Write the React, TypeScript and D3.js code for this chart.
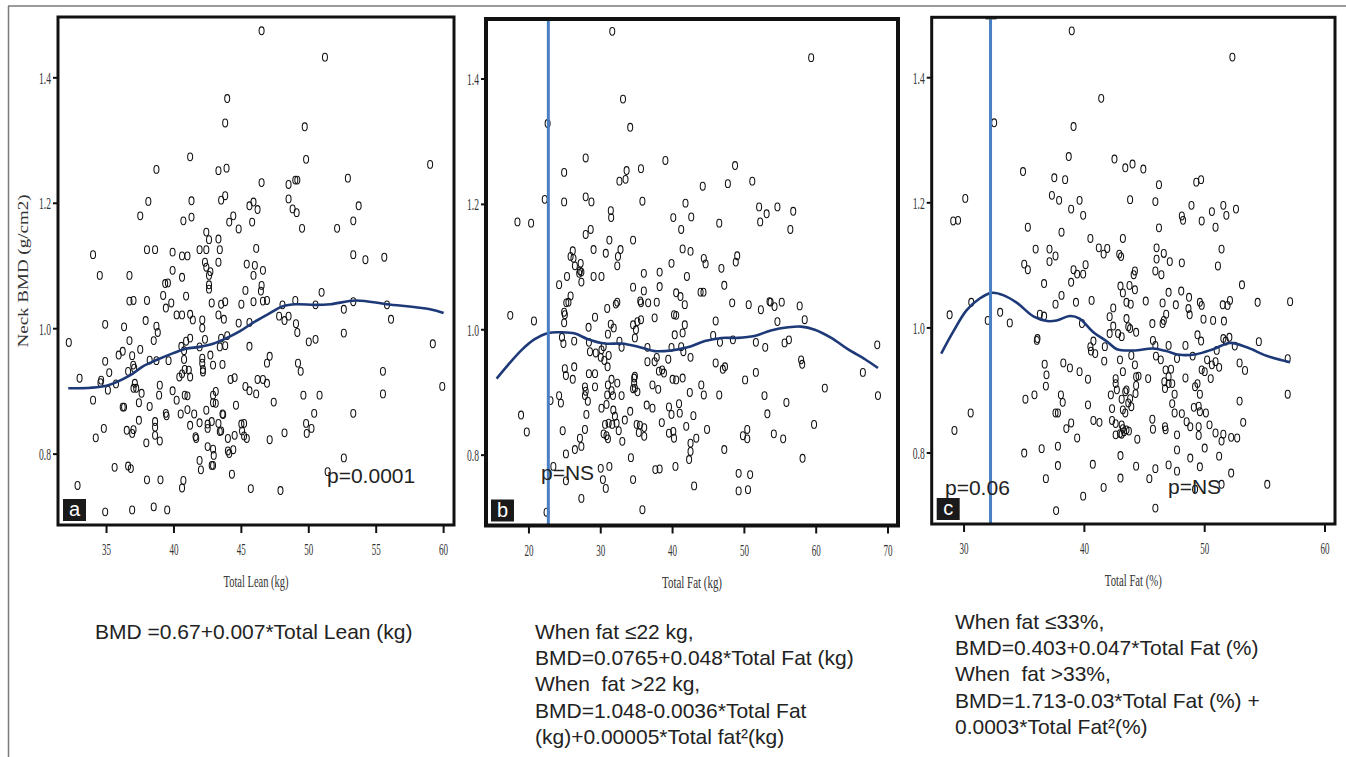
import React from 'react';
import * as d3 from 'd3';

type Pt = [number, number];

const yTickValues = [0.8, 1.0, 1.2, 1.4];
const leanTicks = [35, 40, 45, 50, 55, 60];
const fatKgTicks = [20, 30, 40, 50, 60, 70];
const fatPctTicks = [30, 40, 50, 60];

const leanPoints: Pt[] = [
[46.5,1.475],[51.2,1.433],[43.95,1.367],[43.8,1.328],[49.7,1.322],[41.2,1.274],[49.8,1.270],[59.0,1.262],[38.7,1.254],[43.3,1.252],[43.9,1.256],[46.5,1.233],[52.9,1.240],[48.5,1.230],[49.0,1.237],[49.15,1.237],[38.1,1.203],[41.3,1.204],[43.5,1.205],[43.8,1.212],[48.5,1.207],[45.6,1.196],[45.9,1.202],[46.2,1.190],[48.8,1.191],[49.1,1.185],[53.7,1.196],[37.5,1.180],[40.7,1.172],[41.3,1.178],[44.1,1.170],[44.4,1.180],[44.8,1.159],[45.8,1.170],[49.5,1.160],[52.1,1.160],[53.3,1.172],[34.0,1.118],[38.0,1.126],[38.6,1.126],[39.9,1.122],[40.6,1.116],[41.0,1.116],[41.9,1.126],[42.4,1.126],[42.4,1.154],[42.6,1.142],[43.3,1.143],[43.4,1.126],[46.1,1.128],[53.3,1.118],[54.2,1.110],[55.6,1.114],[43.3,1.106],[42.3,1.106],[42.4,1.098],[42.7,1.091],[45.4,1.103],[46.0,1.101],[46.6,1.093],[39.9,1.093],[34.5,1.085],[36.7,1.085],[40.6,1.082],[42.6,1.085],[45.9,1.085],
[39.35,1.072],[39.55,1.073],[42.6,1.070],[42.6,1.063],[45.3,1.061],[46.5,1.069],[46.45,1.060],[50.95,1.058],[39.2,1.053],[40.9,1.052],[36.7,1.044],[37.0,1.045],[38.0,1.045],[39.4,1.033],[39.8,1.041],[42.8,1.041],[43.5,1.039],[43.8,1.043],[45.0,1.039],[45.9,1.043],[46.6,1.044],[46.9,1.045],[49.0,1.045],[50.5,1.038],[52.6,1.031],[53.3,1.043],[55.8,1.038],[40.2,1.022],[40.6,1.022],[41.2,1.023],[41.4,1.014],[42.1,1.014],[42.1,1.001],[43.3,1.022],[43.7,1.015],[44.8,1.009],[45.6,1.010],[47.8,1.020],[48.05,1.038],[48.2,1.013],[48.5,1.020],[49.05,1.008],[49.15,0.994],[56.1,1.015],[52.6,0.993],[34.9,1.007],[36.3,1.003],[37.9,1.013],[38.7,1.004],[38.8,0.994],[36.7,0.981],[38.5,0.981],[32.2,0.978],[37.5,0.967],[35.9,0.958],[36.2,0.964],[36.9,0.957],[34.9,0.948],[35.2,0.930],[36.6,0.932],[36.98,0.942],[37.05,0.937],[38.2,0.950],[38.7,0.949],[39.6,0.949],[40.55,0.972],[40.75,0.965],[40.9,0.980],[41.2,0.985],[40.75,0.951],[41.9,0.971],[42.3,0.983],[42.1,0.953],[42.1,0.945],[42.15,0.935],[42.15,0.931],[42.7,0.958],[42.9,0.942],[43.4,0.971],[43.5,0.985],[43.8,0.973],[43.95,0.989],[43.6,0.943],[45.6,0.972],[44.2,0.919],[44.5,0.922],[45.3,0.908],[45.6,0.901],[46.1,0.896],[46.2,0.919],[46.6,0.919],[46.9,0.913],[46.9,0.945],[47.1,0.956],[49.2,0.945],[49.4,0.932],[50.0,0.979],[50.5,0.983],[49.6,0.894],[50.8,0.894],[55.5,0.932],[55.5,0.896],[59.2,0.976],[59.9,0.908],[33.0,0.921],[34.55,0.914],[34.6,0.918],[35.1,0.902],[35.7,0.912],[34.0,0.886],[36.2,0.875],[36.3,0.875],[37.1,0.913],[37.0,0.905],[37.2,0.905],[37.6,0.897],[37.4,0.882],[38.2,0.876],[38.95,0.910],[38.9,0.894],[39.9,0.901],[40.2,0.886],[40.8,0.894],[41.0,0.893],[41.5,0.864],[40.4,0.923],[40.6,0.928],[40.8,0.935],[41.1,0.934],[41.2,0.923],[40.5,0.864],[41.0,0.871],[39.4,0.865],[39.45,0.861],[38.6,0.852],[38.6,0.843],[38.6,0.830],[38.95,0.821],[37.4,0.854],[37.95,0.818],[34.8,0.841],[34.2,0.826],[36.5,0.838],[36.9,0.833],[37.0,0.839],[41.2,0.846],[41.6,0.828],[41.65,0.825],[41.9,0.850],[42.4,0.870],[42.5,0.848],[42.5,0.841],[42.8,0.852],[42.9,0.882],[43.1,0.881],[43.1,0.900],[42.9,0.894],[43.6,0.864],[43.65,0.863],[43.3,0.849],[43.4,0.836],[43.5,0.837],[44.0,0.825],[44.5,0.830],[44.6,0.878],[45.0,0.848],[45.2,0.849],[45.05,0.837],[45.2,0.829],[45.4,0.825],[44.0,0.805],[44.1,0.801],[44.4,0.807],[42.5,0.812],[42.9,0.808],[42.95,0.798],[42.8,0.782],[42.9,0.782],[41.9,0.790],[42.0,0.775],[44.3,0.768],[47.4,0.883],[47.1,0.823],[48.2,0.834],[49.8,0.849],[49.85,0.833],[50.2,0.841],[50.4,0.865],[53.3,0.865],[52.6,0.794],[51.4,0.772],[35.6,0.779],[36.6,0.781],[36.8,0.777],[32.85,0.750],[38.0,0.759],[39.0,0.759],[40.7,0.758],[40.6,0.746],[45.7,0.745],[47.9,0.742],[38.5,0.716],[34.9,0.708],[36.9,0.711],[39.5,0.711]
];

const fatKgPoints: Pt[] = [
[31.6,1.476],[59.3,1.434],[33.1,1.368],[22.6,1.329],[34.1,1.323],[27.9,1.274],[39.0,1.270],[48.7,1.262],[24.9,1.251],[33.6,1.254],[35.6,1.257],[32.6,1.237],[33.45,1.240],[44.2,1.229],[47.7,1.233],[51.1,1.237],[22.2,1.208],[24.9,1.204],[27.9,1.212],[28.7,1.204],[35.8,1.205],[41.8,1.202],[31.4,1.190],[31.45,1.179],[40.1,1.179],[42.6,1.180],[52.05,1.196],[53.1,1.185],[54.6,1.196],[56.8,1.189],[52.2,1.172],[56.4,1.160],[18.4,1.172],[20.3,1.170],[46.5,1.170],[41.2,1.160],[27.9,1.152],[28.6,1.160],[31.2,1.143],[34.5,1.143],[26.1,1.126],[25.8,1.117],[26.2,1.114],[29.0,1.128],[30.7,1.122],[32.75,1.128],[32.4,1.117],[32.3,1.102],[41.4,1.129],[42.5,1.125],[44.35,1.114],[44.6,1.105],[49.0,1.118],[48.8,1.108],[39.85,1.106],[46.8,1.098],[26.4,1.102],[27.2,1.106],[27.1,1.094],[27.3,1.092],[27.0,1.090],[25.3,1.085],[29.0,1.085],[30.1,1.085],[36.0,1.090],[38.2,1.092],[42.0,1.085],
[27.3,1.076],[24.2,1.072],[25.8,1.054],[25.2,1.043],[25.5,1.044],[24.9,1.028],[25.0,1.024],[24.9,1.011],[17.4,1.023],[20.7,1.014],[28.3,1.004],[29.2,1.020],[30.9,1.034],[32.1,1.041],[32.3,1.044],[31.4,1.009],[31.8,1.003],[31.0,0.993],[34.5,1.068],[36.0,1.062],[38.2,1.069],[35.5,1.046],[35.6,1.043],[36.6,1.043],[37.8,1.044],[40.5,1.059],[41.1,1.053],[41.7,1.040],[43.9,1.060],[44.3,1.060],[47.2,1.071],[48.3,1.043],[50.6,1.040],[52.3,1.032],[53.5,1.045],[53.65,1.044],[54.2,1.037],[55.2,1.044],[57.7,1.038],[58.4,1.016],[54.6,1.013],[46.0,1.014],[37.5,1.019],[34.5,1.008],[35.1,1.013],[35.6,1.016],[34.9,1.000],[34.75,0.987],[40.2,1.024],[40.5,1.023],[41.7,1.008],[41.4,0.995],[40.3,0.992],[24.6,0.988],[24.8,0.978],[26.3,0.982],[28.35,0.980],[28.5,0.965],[29.3,0.963],[30.0,0.956],[30.5,0.951],[30.95,0.941],[31.1,0.959],[30.4,0.973],[30.1,0.968],[32.6,0.982],[32.9,0.972],[36.5,0.972],[36.5,0.949],[37.8,0.956],[37.5,0.949],[39.4,0.953],[39.85,0.972],[41.2,0.973],[41.5,0.965],[42.5,0.956],[46.0,0.947],[47.0,0.937],[47.3,0.941],[46.6,0.980],[45.65,0.991],[48.4,0.984],[51.6,0.980],[52.9,0.972],[55.6,0.979],[56.2,0.984],[57.9,0.952],[58.05,0.945],[68.5,0.976],[66.5,0.932],[61.2,0.907],[68.6,0.895],[59.7,0.849],[58.1,0.795],[51.6,0.932],[50.1,0.920],[52.8,0.895],[53.2,0.866],[55.85,0.884],[54.1,0.834],[55.4,0.826],[49.8,0.831],[50.4,0.841],[50.4,0.826],[49.2,0.771],[50.8,0.769],[49.2,0.743],[50.5,0.745],[47.2,0.809],[46.5,0.896],[44.0,0.912],[44.35,0.896],[42.4,0.900],[41.4,0.923],[40.5,0.920],[40.0,0.921],[38.1,0.934],[38.8,0.931],[38.55,0.936],[37.2,0.912],[38.0,0.905],[34.65,0.923],[34.75,0.926],[34.65,0.915],[34.75,0.907],[34.5,0.906],[35.1,0.901],[31.5,0.921],[32.3,0.915],[31.0,0.912],[31.5,0.903],[30.9,0.896],[31.7,0.895],[32.9,0.895],[27.8,0.909],[27.9,0.902],[27.8,0.895],[28.2,0.886],[29.2,0.909],[28.35,0.930],[29.2,0.930],[25.15,0.927],[26.1,0.921],[26.3,0.941],[25.0,0.938],[23.0,0.887],[24.2,0.895],[24.45,0.883],[18.9,0.864],[19.7,0.837],[24.7,0.839],[28.0,0.865],[27.8,0.841],[27.1,0.827],[27.3,0.814],[26.4,0.809],[25.15,0.802],[30.1,0.875],[30.8,0.881],[30.6,0.849],[31.1,0.851],[31.6,0.849],[32.2,0.851],[31.97,0.862],[31.75,0.872],[30.4,0.834],[30.8,0.831],[31.0,0.826],[32.5,0.839],[33.0,0.822],[33.35,0.856],[34.1,0.870],[35.0,0.849],[35.45,0.848],[35.3,0.836],[36.05,0.844],[36.05,0.830],[36.4,0.880],[37.2,0.875],[38.5,0.852],[39.5,0.877],[39.85,0.865],[39.5,0.835],[40.1,0.838],[40.2,0.827],[40.9,0.882],[41.0,0.867],[41.9,0.846],[42.9,0.863],[44.8,0.841],[42.5,0.819],[42.5,0.806],[42.3,0.793],[43.3,0.827],[34.2,0.796],[34.5,0.761],[30.0,0.779],[31.2,0.782],[30.3,0.761],[30.7,0.747],[37.6,0.777],[38.2,0.778],[40.4,0.782],[43.0,0.751],[23.4,0.782],[25.15,0.759],[27.3,0.731],[22.45,0.709],[35.8,0.713]
];

const fatPctPoints: Pt[] = [
[38.95,1.475],[52.3,1.433],[41.4,1.367],[32.5,1.328],[39.1,1.322],[38.7,1.274],[42.5,1.270],[43.4,1.256],[44.0,1.262],[44.9,1.254],[34.9,1.250],[37.5,1.240],[38.4,1.237],[46.2,1.229],[49.3,1.233],[49.7,1.237],[30.1,1.207],[37.3,1.212],[37.9,1.204],[39.6,1.204],[43.8,1.205],[45.9,1.202],[38.9,1.190],[39.9,1.180],[48.9,1.196],[48.1,1.179],[48.2,1.172],[49.75,1.171],[50.6,1.186],[51.55,1.196],[51.8,1.180],[52.6,1.190],[50.9,1.161],[29.1,1.171],[29.5,1.172],[35.3,1.161],[38.1,1.153],[46.2,1.160],[40.5,1.143],[43.2,1.143],[35.95,1.126],[37.1,1.126],[37.6,1.115],[37.1,1.106],[41.2,1.128],[41.6,1.118],[41.9,1.127],[42.9,1.118],[43.05,1.114],[46.0,1.128],[46.6,1.119],[46.0,1.110],[47.1,1.106],[48.1,1.104],[51.4,1.126],[51.1,1.099],[35.0,1.102],[35.3,1.093],[39.1,1.093],[39.4,1.086],[39.9,1.086],[40.1,1.101],[44.2,1.091],[44.1,1.085],[45.9,1.091],[46.4,1.085],
[36.65,1.071],[38.9,1.073],[43.0,1.067],[43.2,1.056],[43.75,1.068],[44.2,1.061],[47.0,1.057],[48.05,1.059],[53.1,1.069],[37.6,1.038],[38.1,1.052],[39.3,1.041],[40.6,1.044],[30.6,1.041],[28.8,1.021],[31.97,1.012],[33.0,1.025],[33.8,1.008],[36.3,1.022],[36.65,1.019],[39.8,1.007],[42.1,1.018],[42.4,1.032],[42.4,1.003],[43.5,1.041],[43.85,1.038],[45.1,1.043],[46.5,1.040],[47.6,1.037],[48.7,1.049],[48.65,1.031],[48.75,1.021],[49.6,1.041],[49.75,1.036],[51.5,1.037],[51.9,1.036],[52.1,1.044],[54.4,1.041],[57.1,1.042],[43.5,1.015],[43.65,1.002],[43.8,0.999],[44.3,0.993],[45.65,1.007],[46.5,1.007],[46.6,1.012],[46.8,1.022],[49.9,1.014],[50.7,1.012],[51.6,1.011],[42.1,0.991],[42.8,0.991],[43.1,0.986],[40.75,0.979],[40.5,0.970],[40.9,0.959],[40.55,0.963],[41.7,0.970],[41.65,0.947],[36.1,0.983],[36.05,0.980],[42.96,0.949],[43.2,0.930],[43.9,0.956],[44.2,0.941],[45.7,0.980],[45.9,0.972],[45.95,0.955],[46.35,0.949],[47.0,0.972],[47.7,0.951],[48.4,0.972],[49.0,0.955],[49.4,0.989],[49.7,0.979],[51.0,0.964],[51.55,0.983],[51.75,0.979],[52.05,0.985],[52.5,0.971],[54.5,0.978],[56.9,0.951],[56.9,0.894],[50.2,0.949],[50.6,0.941],[50.9,0.946],[51.2,0.937],[49.75,0.933],[50.0,0.930],[50.5,0.919],[52.9,0.944],[53.35,0.932],[49.4,0.911],[49.2,0.906],[49.6,0.894],[49.5,0.875],[49.1,0.873],[49.6,0.866],[50.1,0.864],[48.4,0.920],[46.75,0.933],[47.2,0.934],[47.0,0.922],[46.65,0.914],[47.0,0.911],[47.3,0.911],[46.7,0.903],[47.5,0.894],[47.3,0.879],[47.5,0.864],[48.1,0.863],[48.5,0.850],[48.8,0.842],[49.5,0.842],[49.5,0.828],[50.4,0.845],[50.9,0.832],[51.4,0.819],[51.55,0.830],[52.2,0.825],[52.7,0.824],[52.9,0.883],[53.2,0.849],[50.0,0.808],[51.2,0.795],[52.2,0.768],[55.2,0.750],[48.8,0.792],[49.6,0.778],[47.7,0.829],[47.7,0.805],[47.7,0.771],[47.0,0.781],[45.9,0.775],[46.7,0.842],[46.75,0.837],[45.65,0.854],[45.7,0.838],[45.4,0.759],[45.9,0.712],[51.4,0.750],[49.2,0.742],[45.3,0.919],[44.3,0.922],[44.5,0.923],[44.3,0.908],[44.25,0.895],[42.6,0.919],[42.6,0.911],[42.7,0.901],[43.4,0.898],[43.5,0.901],[42.2,0.893],[43.8,0.887],[43.65,0.880],[43.9,0.874],[43.1,0.886],[43.2,0.869],[43.4,0.864],[42.3,0.871],[40.75,0.852],[41.25,0.849],[42.3,0.852],[42.6,0.847],[43.1,0.845],[43.2,0.839],[43.3,0.834],[43.1,0.830],[43.5,0.837],[43.7,0.835],[42.6,0.829],[42.96,0.831],[44.4,0.822],[43.0,0.796],[43.0,0.760],[44.3,0.779],[41.6,0.745],[40.7,0.782],[39.9,0.731],[40.3,0.877],[40.3,0.918],[39.6,0.930],[38.8,0.936],[38.25,0.944],[38.05,0.893],[38.2,0.881],[37.6,0.864],[37.8,0.864],[36.7,0.942],[36.85,0.925],[36.8,0.907],[35.85,0.893],[35.1,0.886],[30.55,0.864],[29.2,0.836],[38.5,0.839],[38.9,0.848],[39.4,0.824],[37.8,0.811],[36.45,0.807],[35.0,0.800],[37.8,0.780],[36.8,0.759],[37.65,0.708]
];

const leanCurve: Pt[] = [[32.16,0.905],[35.0,0.909],[36.7,0.925],[37.7,0.940],[38.7,0.950],[39.95,0.961],[40.9,0.968],[41.9,0.971],[42.9,0.976],[43.9,0.985],[44.9,0.996],[45.9,1.010],[46.9,1.022],[48.1,1.036],[49.1,1.039],[50.45,1.038],[51.6,1.039],[53.5,1.045],[55.8,1.039],[59.0,1.031],[60.0,1.025]];
const fatKgCurve: Pt[] = [[15.5,0.922],[17.1,0.944],[19.0,0.968],[20.8,0.985],[22.7,0.995],[24.5,0.996],[26.4,0.994],[28.2,0.985],[30.6,0.978],[32.9,0.978],[35.2,0.973],[37.5,0.966],[39.8,0.967],[42.1,0.972],[44.5,0.982],[46.8,0.987],[49.1,0.987],[51.4,0.990],[53.7,0.999],[56.1,1.004],[57.9,1.005],[59.8,1.0],[62.1,0.987],[64.4,0.969],[66.8,0.953],[68.6,0.939]];
const fatPctCurve: Pt[] = [[28.1,0.959],[29.1,0.994],[30.2,1.028],[31.3,1.047],[32.3,1.056],[33.3,1.052],[34.4,1.040],[35.8,1.018],[36.9,1.011],[37.7,1.012],[38.8,1.019],[39.6,1.015],[40.7,0.994],[41.9,0.978],[42.7,0.966],[44.1,0.964],[45.7,0.967],[46.8,0.963],[47.9,0.957],[49.3,0.958],[50.7,0.966],[52.1,0.976],[53.5,0.969],[55.2,0.955],[57.1,0.945]];

const fatKgCut = 22.7;
const fatPctCut = 32.2;

const eqLean = ['BMD =0.67+0.007*Total Lean (kg)'];
const eqFatKg = ['When fat \u226422 kg,', 'BMD=0.0765+0.048*Total Fat (kg)', 'When  fat >22 kg,', 'BMD=1.048-0.0036*Total Fat', '(kg)+0.00005*Total fat\u00b2(kg)'];
const eqFatPct = ['When fat \u226433%,', 'BMD=0.403+0.047*Total Fat (%)', 'When  fat >33%,', 'BMD=1.713-0.03*Total Fat (%) +', '0.0003*Total Fat\u00b2(%)'];

const SERIF = '"Liberation Serif", "DejaVu Serif", serif';
const SANS = '"Liberation Sans", Arial, sans-serif';
const NAVY = '#1d3978';
const BLUE = '#4a80c3';

interface PanelProps {
  box: { l: number; t: number; r: number; b: number; sw: number };
  xDomain: [number, number];
  yDomain: [number, number];
  points: Pt[];
  curve: Pt[];
  xTicks: number[];
  xTitle: string;
  xTitleLen: number;
  label: string;
  pTexts: { text: string; x: number; y: number }[];
  cut?: number;
  capped?: boolean;
}

function Panel(p: PanelProps) {
  const { box } = p;
  const x = d3.scaleLinear().domain(p.xDomain).range([box.l, box.r]);
  const y = d3.scaleLinear().domain(p.yDomain).range([box.b, box.t]);
  const line = d3.line<Pt>().x(d => x(d[0])).y(d => y(d[1])).curve(d3.curveCatmullRom.alpha(0.5));
  const cx = (box.l + box.r) / 2;
  return (
    <g>
      {p.points.map((d, i) => (
        <ellipse key={i} cx={x(d[0])} cy={y(d[1])} rx={2.5} ry={3.9} fill="none" stroke="#111" strokeWidth={1.05} />
      ))}
      <path d={line(p.curve) || ''} fill="none" stroke={NAVY} strokeWidth={2.6} />
      {p.cut !== undefined && (
        <g>
          <line x1={x(p.cut)} x2={x(p.cut)} y1={box.t + 2} y2={box.b} stroke={BLUE} strokeWidth={3} />
          {p.capped && <line x1={x(p.cut) - 5} x2={x(p.cut) + 6} y1={box.t + 1.5} y2={box.t + 1.5} stroke="#222" strokeWidth={1.2} />}
        </g>
      )}
      <rect x={box.l} y={box.t} width={box.r - box.l} height={box.b - box.t} fill="none" stroke="#111" strokeWidth={box.sw} />
      {yTickValues.map(v => (
        <g key={v}>
          <line x1={box.l - 5} x2={box.l} y1={y(v)} y2={y(v)} stroke="#111" strokeWidth={2} />
          <text x={box.l - 7} y={y(v)} dy="0.35em" textAnchor="end" fontFamily={SERIF} fontSize={17} fill="#333" textLength={12} lengthAdjust="spacingAndGlyphs">{v.toFixed(1)}</text>
        </g>
      ))}
      {p.xTicks.map(v => (
        <g key={v}>
          <line x1={x(v)} x2={x(v)} y1={box.b} y2={box.b + 8} stroke="#111" strokeWidth={2} />
          <text x={x(v)} y={box.b + 30} textAnchor="middle" fontFamily={SERIF} fontSize={17} fill="#333" textLength={9} lengthAdjust="spacingAndGlyphs">{v}</text>
        </g>
      ))}
      <text x={cx} y={box.b + 62} textAnchor="middle" fontFamily={SERIF} fontSize={17} fill="#333" textLength={p.xTitleLen} lengthAdjust="spacingAndGlyphs">{p.xTitle}</text>
      {p.pTexts.map((t, i) => (
        <text key={i} x={t.x} y={t.y} fontFamily={SANS} fontSize={21} fill="#222">{t.text}</text>
      ))}
      <rect x={box.l + 5} y={box.b - 26} width={23} height={22} fill="#1a1a1a" />
      <text x={box.l + 16.5} y={box.b - 9} textAnchor="middle" fontFamily={SANS} fontSize={20} fill="#fff">{p.label}</text>
    </g>
  );
}

export default function App() {
  const eqStyle = { whiteSpace: 'pre' as const };
  return (
    <div style={{ position: 'absolute', left: 0, top: 0 }}>
      <svg width={1346} height={757} viewBox="0 0 1346 757" style={{ display: 'block', background: '#fff' }}>
        <rect x={0} y={0} width={1346} height={757} fill="#fff" />
        <line x1={8} x2={1346} y1={6} y2={6} stroke="#7a7a7a" strokeWidth={1.5} />
        <line x1={8.5} x2={8.5} y1={6} y2={757} stroke="#7a7a7a" strokeWidth={1.5} />

        <Panel
          box={{ l: 58, t: 17, r: 454, b: 525, sw: 3 }}
          xDomain={[31.4, 60.77]}
          yDomain={[0.687, 1.497]}
          points={leanPoints}
          curve={leanCurve}
          xTicks={leanTicks}
          xTitle="Total Lean (kg)"
          xTitleLen={65}
          label="a"
          pTexts={[{ text: 'p=0.0001', x: 327, y: 483 }]}
        />
        <Panel
          box={{ l: 486, t: 19, r: 898, b: 525.5, sw: 4 }}
          xDomain={[14.02, 71.39]}
          yDomain={[0.6878, 1.4957]}
          points={fatKgPoints}
          curve={fatKgCurve}
          xTicks={fatKgTicks}
          xTitle="Total Fat (kg)"
          xTitleLen={60}
          label="b"
          pTexts={[{ text: 'p=NS', x: 541, y: 480 }]}
          cut={fatKgCut}
        />
        <Panel
          box={{ l: 931.7, t: 17.3, r: 1335, b: 524, sw: 3 }}
          xDomain={[27.31, 60.83]}
          yDomain={[0.6865, 1.4966]}
          points={fatPctPoints}
          curve={fatPctCurve}
          xTicks={fatPctTicks}
          xTitle="Total Fat (%)"
          xTitleLen={57}
          label="c"
          pTexts={[{ text: 'p=0.06', x: 945, y: 495 }, { text: 'p=NS', x: 1168, y: 494 }]}
          cut={fatPctCut}
          capped
        />

        <text x={23} y={271} transform="rotate(-90 23 271)" dy="0.35em" textAnchor="middle" fontFamily={SERIF} fontSize={14} fill="#333" textLength={153} lengthAdjust="spacingAndGlyphs">Neck BMD (g/cm2)</text>

        {eqLean.map((s, i) => (
          <text key={i} x={95} y={639 + i * 26} fontFamily={SANS} fontSize={21} fill="#222" style={eqStyle}>{s}</text>
        ))}
        {eqFatKg.map((s, i) => (
          <text key={i} x={535} y={639 + i * 26.2} fontFamily={SANS} fontSize={21} fill="#222" style={eqStyle}>{s}</text>
        ))}
        {eqFatPct.map((s, i) => (
          <text key={i} x={955} y={629 + i * 26.2} fontFamily={SANS} fontSize={21} fill="#222" style={eqStyle}>{s}</text>
        ))}
      </svg>
    </div>
  );
}
